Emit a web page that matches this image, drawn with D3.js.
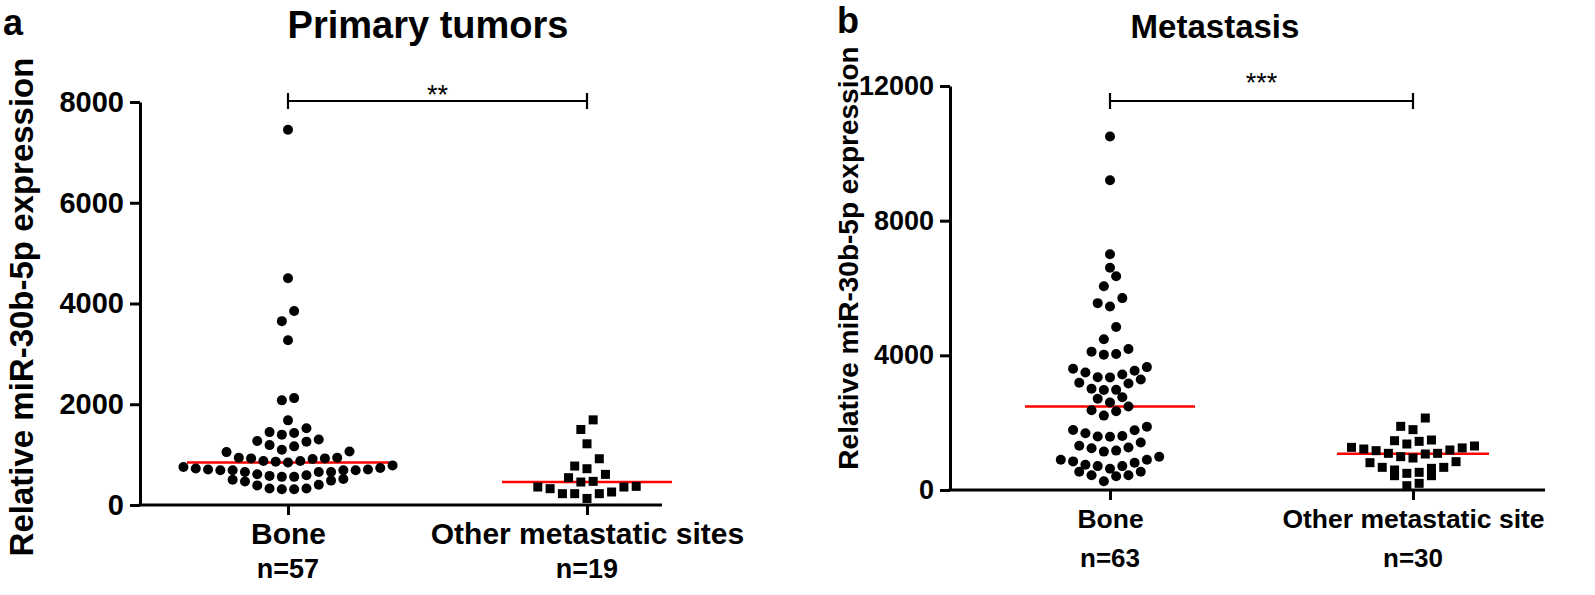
<!DOCTYPE html>
<html>
<head>
<meta charset="utf-8">
<script src="https://cdnjs.cloudflare.com/ajax/libs/d3/7.8.5/d3.min.js"></script>
<style>
  body { margin: 0; background: #fff; }
  text { font-family: "Liberation Sans", Arial, sans-serif; }
</style>
</head>
<body>
<div id="chart"></div>
<script>
// data
var primaryCats = ["Bone", "Other metastatic sites"];
var primaryN = ["n=57", "n=19"];
var primaryTicks = [0, 2000, 4000, 6000, 8000];
var primaryBone = [7450, 4500, 3850, 3650, 3270, 2122, 2077, 1680, 1523, 1447, 1428, 1397,
  1302, 1271, 1258, 1189, 1164, 1095, 1063, 1050, 937, 937, 925, 925, 912, 874, 874, 861,
  843, 786, 754, 735, 723, 704, 704, 691, 691, 691, 691, 654, 654, 654, 610, 591, 578, 559,
  559, 515, 502, 484, 465, 402, 389, 326, 326, 313, 313];
var primaryOther = [1690, 1499, 1215, 918, 773, 720, 608, 542, 469, 456, 370, 357, 357, 324,
  258, 225, 225, 225, 130];

var metaCats = ["Bone", "Other metastatic site"];
var metaN = ["n=63", "n=30"];
var metaTicks = [0, 4000, 8000, 12000];
var metaBone = [10500, 9200, 7000, 6600, 6350, 6050, 5700, 5450, 5550, 4840, 4480, 4110, 4020,
  4040, 4190, 3600, 3490, 3345, 3350, 3430, 3540, 3650, 3185, 3010, 2975, 2970, 3165, 3280,
  2710, 2600, 2755, 2370, 2210, 2340, 2480, 1780, 1685, 1590, 1580, 1605, 1775, 1880, 1315,
  1240, 1140, 1170, 1265, 1410, 900, 850, 750, 710, 630, 710, 810, 900, 990, 540, 440, 260,
  410, 440, 540];
var metaOther = [2138, 1891, 1792, 1485, 1465, 1445, 1366, 1307, 1267, 1250, 1218, 1188, 1168,
  1089, 1089, 1069, 950, 990, 812, 841, 673, 643, 673, 594, 525, 495, 425, 425, 198, 128];

var svg = d3.select("#chart").append("svg")
  .attr("width", 1595)
  .attr("height", 595);

// Prism-style scatter: points within `tol` px of a row's lowest value share a row,
// spread sideways by `step`, smallest values in the middle
function rowLayout(values, y, tol, step) {
  var pts = values.map(function(v) { return {v: v, y: y(v), x: 0}; });
  var sorted = pts.slice().sort(function(a, b) { return a.v - b.v; });
  var groups = [], cur = null;
  sorted.forEach(function(p) {
    if (!cur || cur.y0 - p.y >= tol) {
      cur = {y0: p.y, pts: []};
      groups.push(cur);
    }
    cur.pts.push(p);
  });
  groups.forEach(function(gr) {
    var n = gr.pts.length;
    var offs = d3.range(n).map(function(i) { return (i - (n - 1) / 2) * step; });
    offs.sort(function(a, b) { return Math.abs(a) - Math.abs(b) || a - b; });
    gr.pts.forEach(function(p, i) { p.x = offs[i]; });
  });
  return pts;
}

function panel(cfg) {
  var g = svg.append("g");
  var y = d3.scaleLinear().domain([0, cfg.ticks[cfg.ticks.length - 1]]).range([cfg.bottom, cfg.top]);
  var x = d3.scalePoint().domain(cfg.cats).range(cfg.catRange);

  // y axis
  var yAxis = g.append("g")
    .attr("transform", "translate(" + cfg.left + ",0)")
    .call(d3.axisLeft(y).tickValues(cfg.ticks).tickSize(10).tickSizeOuter(0).tickPadding(6).tickFormat(d3.format("d")));
  yAxis.select(".domain").attr("stroke-width", 3);
  yAxis.selectAll(".tick line").attr("stroke-width", 3);
  yAxis.selectAll(".tick text").style("font-size", cfg.tickFont + "px").style("font-weight", "bold").attr("fill", "#000");

  // x axis
  g.append("line")
    .attr("x1", cfg.left - 1.5).attr("x2", cfg.right)
    .attr("y1", cfg.bottom).attr("y2", cfg.bottom)
    .attr("stroke", "#000").attr("stroke-width", 3);
  var xAxis = g.append("g")
    .attr("transform", "translate(0," + cfg.bottom + ")")
    .call(d3.axisBottom(x).tickSize(10).tickPadding(cfg.catPad));
  xAxis.select(".domain").remove();
  xAxis.selectAll(".tick line").attr("stroke-width", 3);
  xAxis.selectAll(".tick text").style("font-size", cfg.catFont + "px").style("font-weight", "bold").attr("fill", "#000");

  g.selectAll(".nlab")
    .data(cfg.cats)
    .enter().append("text")
    .attr("x", function(d) { return x(d); })
    .attr("y", cfg.bottom + cfg.nOffset)
    .attr("text-anchor", "middle")
    .style("font-size", cfg.nFont + "px")
    .style("font-weight", "bold")
    .text(function(d, i) { return cfg.n[i]; });

  // median lines (drawn under the points)
  [cfg.bone, cfg.other].forEach(function(vals, i) {
    var m = d3.median(vals);
    g.append("line")
      .attr("x1", x(cfg.cats[i]) - cfg.medHalf[i]).attr("x2", x(cfg.cats[i]) + cfg.medHalf[i])
      .attr("y1", y(m)).attr("y2", y(m))
      .attr("stroke", "#ff0000").attr("stroke-width", 2.5);
  });

  // bone: circles
  var bone = rowLayout(cfg.bone, y, 12.3, 12.3);
  g.selectAll(".dot")
    .data(bone)
    .enter().append("circle")
    .attr("cx", function(d) { return x(cfg.cats[0]) + d.x; })
    .attr("cy", function(d) { return d.y; })
    .attr("r", 5)
    .attr("fill", "#000");

  // other: squares
  var other = rowLayout(cfg.other, y, 12.3, 12.3);
  var s = 9;
  g.selectAll(".sq")
    .data(other)
    .enter().append("rect")
    .attr("x", function(d) { return x(cfg.cats[1]) + d.x - s / 2; })
    .attr("y", function(d) { return d.y - s / 2; })
    .attr("width", s).attr("height", s)
    .attr("fill", "#000");

  // significance bracket
  var x0 = x(cfg.cats[0]), x1 = x(cfg.cats[1]);
  g.append("path")
    .attr("d", "M" + x0 + "," + (cfg.brY - 8) + "V" + (cfg.brY + 8) + "M" + x0 + "," + cfg.brY +
      "H" + x1 + "M" + x1 + "," + (cfg.brY - 8) + "V" + (cfg.brY + 8))
    .attr("fill", "none").attr("stroke", "#000").attr("stroke-width", 2.2);
  g.append("text")
    .attr("x", (x0 + x1) / 2).attr("y", cfg.starY)
    .attr("text-anchor", "middle")
    .style("font-size", "27px")
    .text(cfg.stars);

  // titles and labels
  g.append("text")
    .attr("x", cfg.titleX).attr("y", 38)
    .attr("text-anchor", "middle")
    .style("font-size", cfg.titleFont + "px").style("font-weight", "bold")
    .text(cfg.title);
  g.append("text")
    .attr("x", cfg.letterX).attr("y", cfg.letterY)
    .style("font-size", "36px").style("font-weight", "bold")
    .text(cfg.letter);
  g.append("text")
    .attr("transform", "translate(" + cfg.ylabX + "," + cfg.ylabY + ") rotate(-90)")
    .attr("text-anchor", "middle")
    .style("font-size", cfg.ylabFont + "px").style("font-weight", "bold")
    .text("Relative miR-30b-5p expression");
}

panel({
  cats: primaryCats, n: primaryN, ticks: primaryTicks, bone: primaryBone, other: primaryOther,
  left: 140, right: 662, top: 102, bottom: 505, catRange: [288, 587],
  tickFont: 29, catFont: 30, catPad: 8, nFont: 27, nOffset: 73, medHalf: [101, 85],
  brY: 101, starY: 104, stars: "**",
  title: "Primary tumors", titleFont: 38, titleX: 428, letter: "a", letterX: 3, letterY: 35,
  ylabX: 33, ylabY: 307, ylabFont: 33
});

panel({
  cats: metaCats, n: metaN, ticks: metaTicks, bone: metaBone, other: metaOther,
  left: 950, right: 1545, top: 86, bottom: 490, catRange: [1110, 1413],
  tickFont: 27, catFont: 26.5, catPad: 9, nFont: 26, nOffset: 77, medHalf: [85, 76],
  brY: 101, starY: 92, stars: "***",
  title: "Metastasis", titleFont: 33, titleX: 1215, letter: "b", letterX: 837, letterY: 33,
  ylabX: 858, ylabY: 258, ylabFont: 28
});
</script>
</body>
</html>
